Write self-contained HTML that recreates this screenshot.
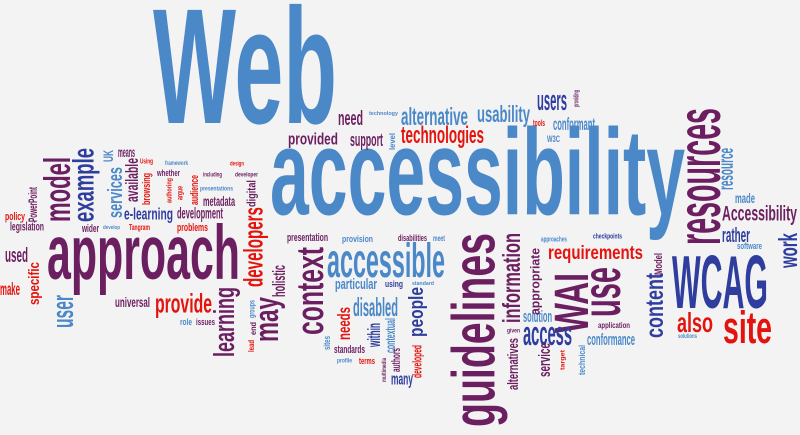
<!DOCTYPE html>
<html>
<head>
<meta charset="utf-8">
<style>
  html,body{margin:0;padding:0;background:#f3f3f3;}
  #cloud{display:block;width:800px;height:435px;background:#f3f3f3;}
  #cloud text{font-family:"Liberation Sans Narrow","Liberation Sans",sans-serif;font-weight:bold;}
</style>
</head>
<body>
<svg id="cloud" width="800" height="435" viewBox="0 0 800 435" xmlns="http://www.w3.org/2000/svg"></svg>
<script>
const palette = {B:"#4b88c8", D:"#2e3d9e", P:"#6c1f60", R:"#e3140e"};
// [text, colour, x0, y0, x1, y1, vertical]
const words = [
["Web","B",153,3,337,123,0],
["accessibility","B",270,125,685,240,0],
["approach","P",47,223,240,295,0],
["guidelines","P",450,233,507,427,1],
["resources","P",688,108,720,245,1],
["WCAG","D",672,253,768,308,0],
["site","R",723,310,772,343,0],
["also","R",677,312,713,332,0],
["Accessibility","P",722,205,797,225,0],
["rather","D",722,227,750,242,0],
["made","B",735,193,755,203,0],
["software","B",737,242,762,249,0],
["work","D",778,233,797,268,1],
["resource","B",722,148,733,190,1],
["content","D",645,273,663,338,1],
["Model","P",654,253,662,275,1],
["use","P",592,267,620,317,1],
["requirements","R",548,245,643,263,0],
["checkpoints","D",593,233,622,240,0],
["application","P",598,322,630,330,0],
["conformance","B",587,333,635,345,0],
["solutions","B",678,333,697,338,0],
["WAI","P",553,273,588,333,1],
["access","D",523,327,572,345,0],
["solution","B",523,310,552,322,0],
["service","P",538,343,550,377,1],
["technical","B",578,345,585,375,1],
["target","R",560,350,566,370,1],
["appropriate","P",530,248,542,315,1],
["approaches","B",541,236,567,243,0],
["information","P",502,233,520,323,1],
["alternatives","P",507,338,518,390,1],
["given","P",507,328,520,334,0],
["users","D",537,95,567,110,0],
["tools","R",533,119,545,126,0],
["conformant","B",553,117,595,130,0],
["W3C","B",547,135,560,142,0],
["providing","P",573,90,580,107,1],
["usability","B",477,105,530,127,0],
["alternative","B",401,107,468,125,0],
["technologies","R",401,125,484,148,0],
["technology","B",369,111,398,116,0],
["need","P",338,110,363,125,0],
["provided","P",288,132,338,148,0],
["support","P",350,133,383,150,0],
["level","B",389,133,395,150,1],
["presentation","P",287,233,328,243,0],
["provision","B",342,235,373,244,0],
["disabilities","P",398,234,427,241,0],
["meet","B",433,235,445,241,0],
["context","P",295,247,323,335,1],
["accessible","B",327,242,445,277,0],
["particular","B",335,278,377,292,0],
["using","D",385,280,403,289,0],
["standard","B",412,281,434,285,0],
["disabled","B",353,297,398,316,0],
["needs","R",337,307,350,340,1],
["people","D",408,287,427,337,1],
["within","D",367,323,380,347,1],
["contextual","B",385,318,395,353,1],
["standards","P",334,345,365,353,0],
["sites","B",323,336,330,350,1],
["profile","B",337,358,352,364,0],
["terms","R",359,357,375,364,0],
["authors","P",391,348,400,372,1],
["developed","R",412,345,424,378,1],
["many","D",391,376,413,388,0],
["multimedia","P",381,358,386,382,1],
["model","P",43,157,70,222,1],
["example","D",72,148,100,222,1],
["services","B",107,167,122,218,1],
["UK","B",103,150,113,162,1],
["means","P",118,150,135,157,0],
["available","P",125,158,138,202,1],
["e-learning","D",124,207,173,223,0],
["Using","R",140,158,153,165,0],
["browsing","R",142,173,152,205,1],
["framework","B",165,160,188,165,0],
["whether","P",157,169,180,176,0],
["authoring","R",166,178,173,203,1],
["argue","R",178,186,184,200,1],
["audience","R",190,175,198,205,1],
["development","P",177,207,223,222,0],
["problems","R",177,223,208,233,0],
["Tangram","R",129,224,150,232,0],
["wider","P",82,224,99,232,0],
["develop","B",103,225,120,230,0],
["legislation","P",10,222,44,233,0],
["policy","R",5,212,25,222,0],
["PowerPoint","P",28,187,37,222,1],
["used","P",5,247,28,262,0],
["make","R",0,282,20,295,0],
["specific","R",28,262,42,305,1],
["user","B",57,295,73,328,1],
["universal","P",115,297,150,307,0],
["provide","R",155,293,212,318,0],
["role","B",180,318,192,325,0],
["issues","P",196,318,215,325,0],
["learning","P",213,287,240,357,1],
["may","P",260,297,285,342,1],
["holistic","P",272,265,285,297,1],
["developers","R",243,207,268,287,1],
["digital","P",247,180,258,207,1],
["metadata","P",203,196,235,206,0],
["presentations","B",200,186,233,192,0],
["including","P",203,172,222,178,0],
["design","R",230,161,244,167,0],
["developer","P",235,172,258,178,0],
["groups","B",250,300,256,318,1],
["end","P",250,322,256,335,1],
["lead","R",248,340,254,352,1]
];

const svg = document.getElementById('cloud');
const NS = "http://www.w3.org/2000/svg";
words.forEach(function(w){
  const text = w[0], col = palette[w[1]];
  const x0 = w[2], y0 = w[3], x1 = w[4], y1 = w[5], vert = w[6];
  const hasAsc = /[A-Zbdfhiklt0-9]/.test(text);
  const hasDesc = /[gjpqy]/.test(text);
  const ratio = (hasAsc ? 0.73 : 0.52) + (hasDesc ? 0.21 : 0);
  const thick = vert ? (x1 - x0) : (y1 - y0);
  const len = vert ? (y1 - y0) : (x1 - x0);
  const size = thick / ratio;
  const desc = hasDesc ? size * 0.21 : 0;
  const el = document.createElementNS(NS, 'text');
  
  
  el.setAttribute('font-size', size.toFixed(1));
  el.setAttribute('fill', col);
  el.setAttribute('textLength', len);
  el.setAttribute('lengthAdjust', 'spacingAndGlyphs');
  if (vert) {
    const bx = x1 - desc, by = y1;
    el.setAttribute('x', bx);
    el.setAttribute('y', by);
    el.setAttribute('transform', 'rotate(-90 ' + bx + ' ' + by + ')');
  } else {
    el.setAttribute('x', x0);
    el.setAttribute('y', y1 - desc);
  }
  el.textContent = text;
  svg.appendChild(el);
});
</script>
</body>
</html>
